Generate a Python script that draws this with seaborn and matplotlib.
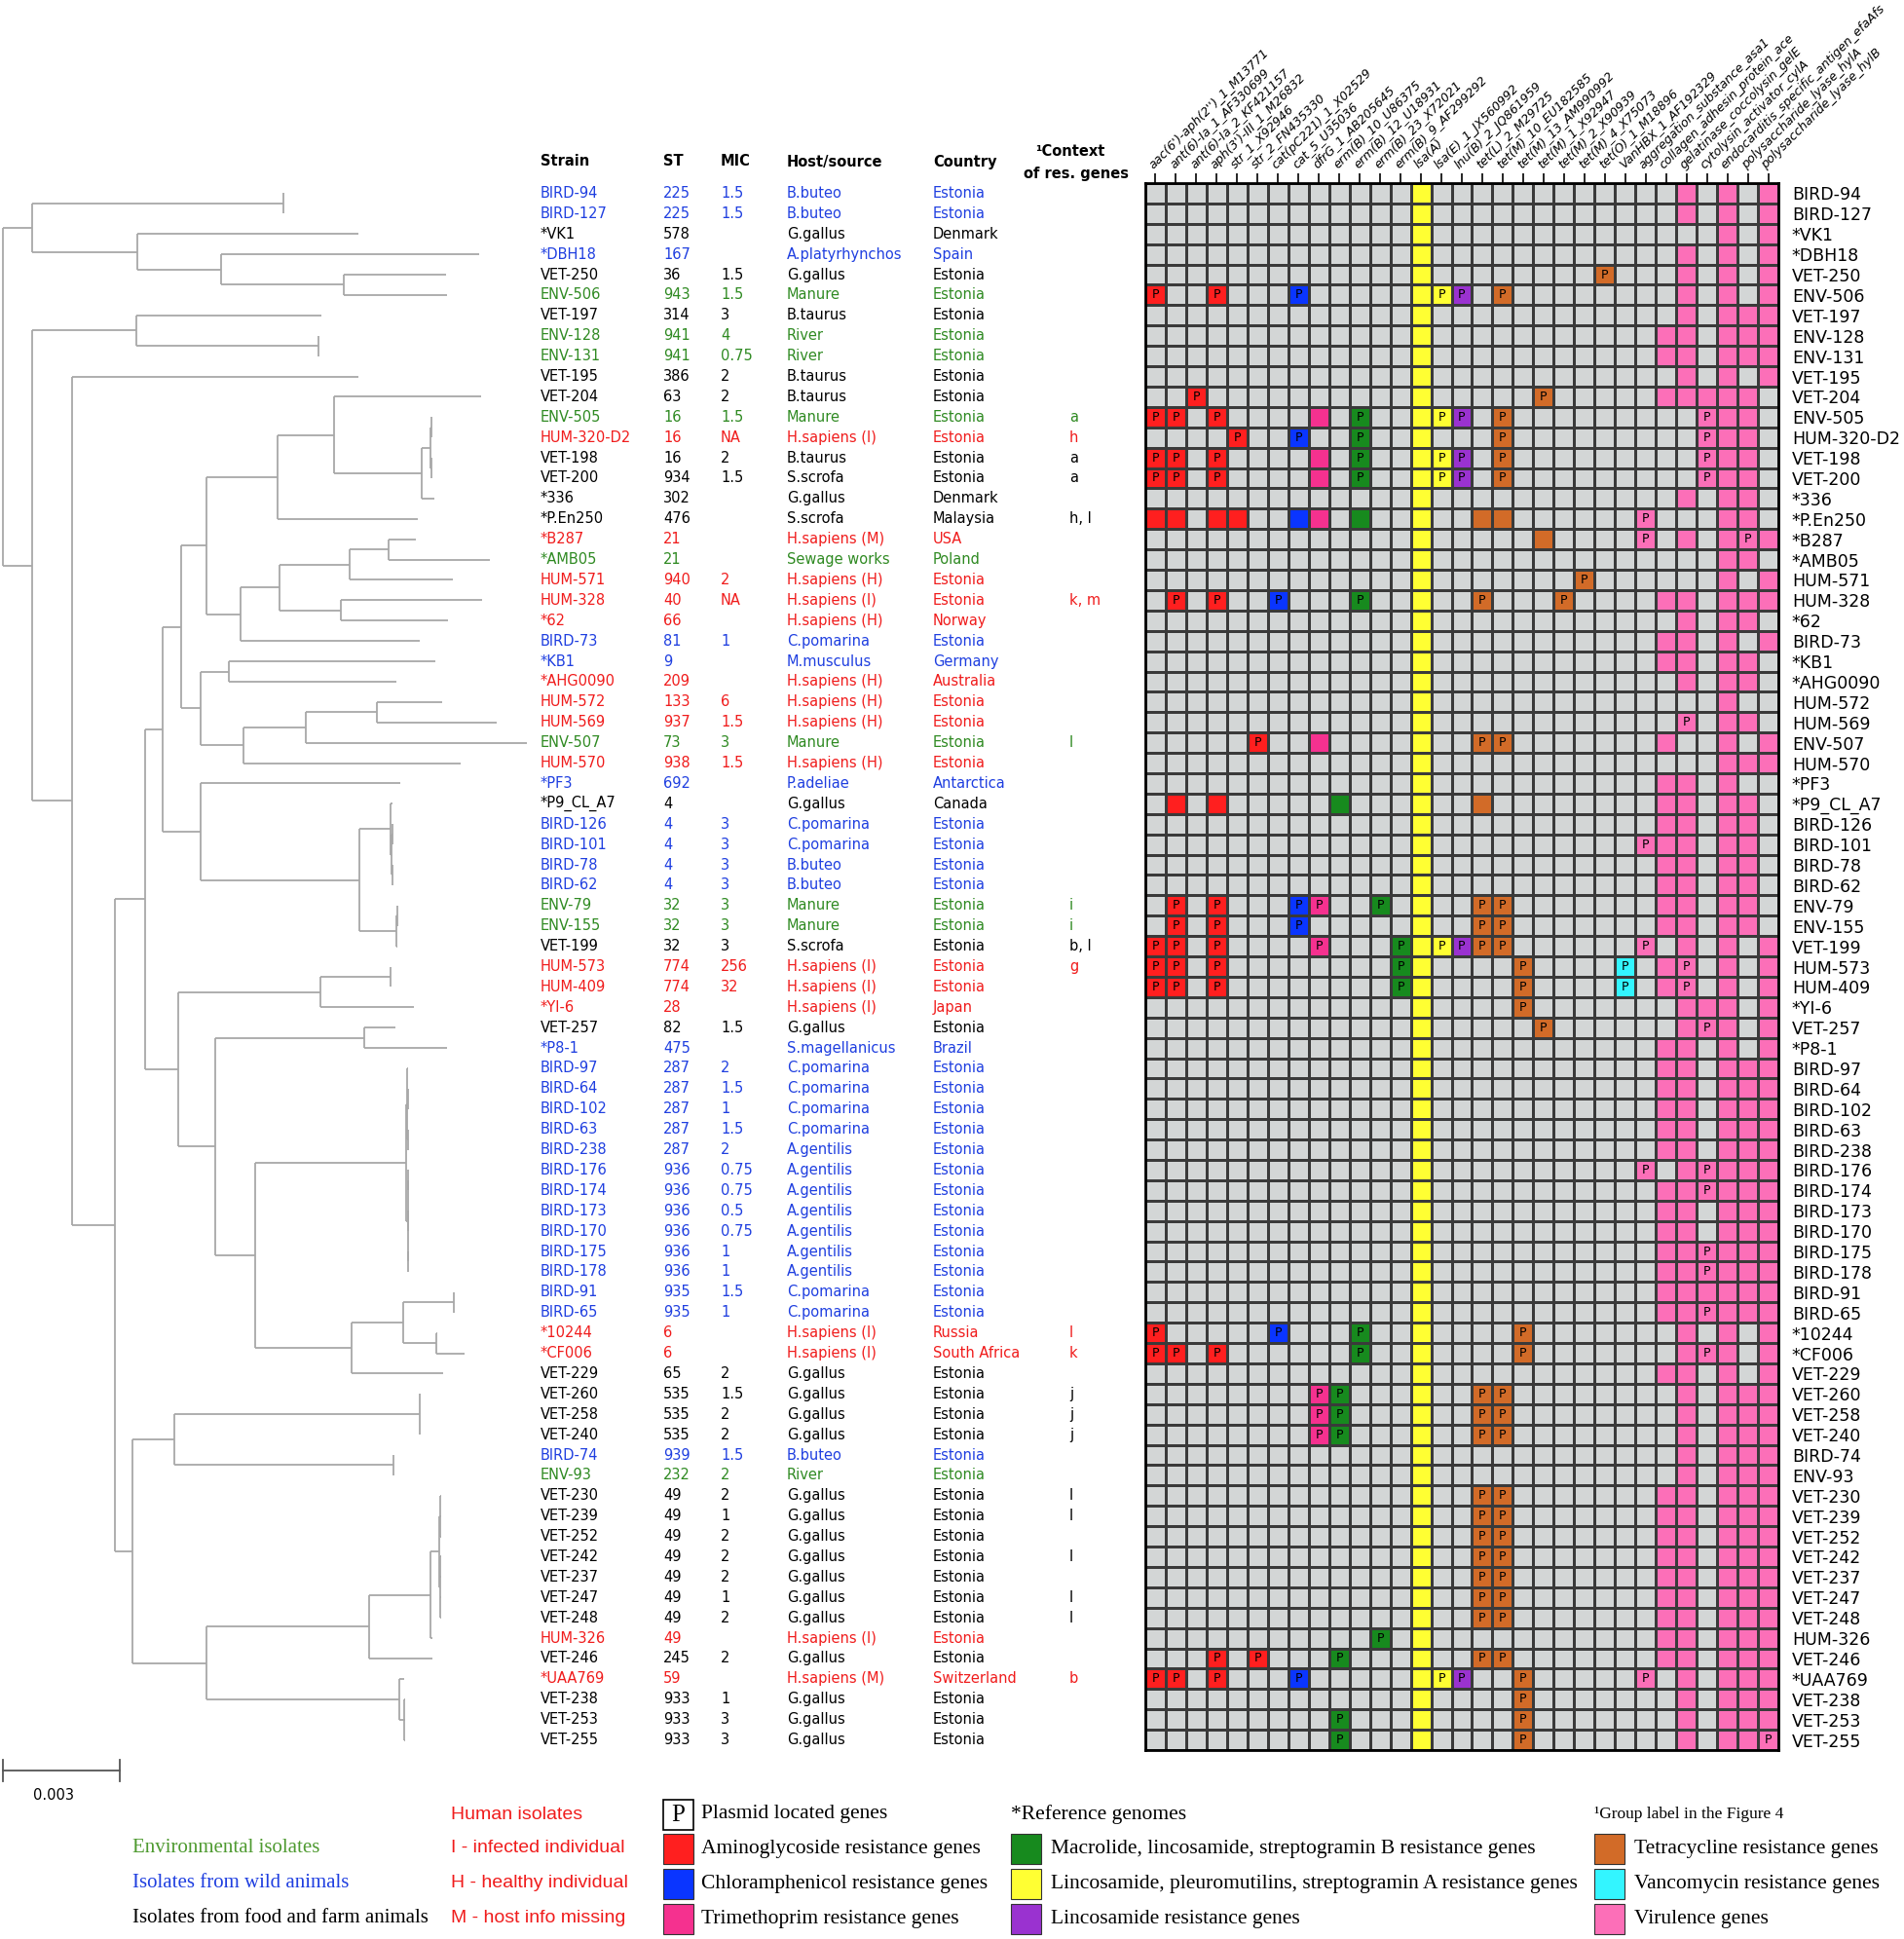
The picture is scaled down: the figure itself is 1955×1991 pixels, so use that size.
import numpy as np
import seaborn as sns
import matplotlib.pyplot as plt
from matplotlib.colors import ListedColormap
from matplotlib.patches import Rectangle

# ---------------- data ----------------
strains = ['BIRD-94', 'BIRD-127', '*VK1', '*DBH18', 'VET-250', 'ENV-506', 'VET-197', 'ENV-128',
           'ENV-131', 'VET-195', 'VET-204', 'ENV-505', 'HUM-320-D2', 'VET-198', 'VET-200', '*336',
           '*P.En250', '*B287', '*AMB05', 'HUM-571', 'HUM-328', '*62', 'BIRD-73', '*KB1',
           '*AHG0090', 'HUM-572', 'HUM-569', 'ENV-507', 'HUM-570', '*PF3', '*P9_CL_A7', 'BIRD-126',
           'BIRD-101', 'BIRD-78', 'BIRD-62', 'ENV-79', 'ENV-155', 'VET-199', 'HUM-573', 'HUM-409',
           '*YI-6', 'VET-257', '*P8-1', 'BIRD-97', 'BIRD-64', 'BIRD-102', 'BIRD-63', 'BIRD-238',
           'BIRD-176', 'BIRD-174', 'BIRD-173', 'BIRD-170', 'BIRD-175', 'BIRD-178', 'BIRD-91', 'BIRD-65',
           '*10244', '*CF006', 'VET-229', 'VET-260', 'VET-258', 'VET-240', 'BIRD-74', 'ENV-93',
           'VET-230', 'VET-239', 'VET-252', 'VET-242', 'VET-237', 'VET-247', 'VET-248', 'HUM-326',
           'VET-246', '*UAA769', 'VET-238', 'VET-253', 'VET-255']

st = ['225', '225', '578', '167', '36', '943', '314', '941', '941', '386', '63', '16', '16', '16',
      '934', '302', '476', '21', '21', '940', '40', '66', '81', '9', '209', '133', '937', '73', '938',
      '692', '4', '4', '4', '4', '4', '32', '32', '32', '774', '774', '28', '82', '475', '287', '287',
      '287', '287', '287', '936', '936', '936', '936', '936', '936', '935', '935', '6', '6', '65',
      '535', '535', '535', '939', '232', '49', '49', '49', '49', '49', '49', '49', '49', '245', '59',
      '933', '933', '933']

mic = ['1.5', '1.5', '', '', '1.5', '1.5', '3', '4', '0.75', '2', '2', '1.5', 'NA', '2', '1.5', '',
       '', '', '', '2', 'NA', '', '1', '', '', '6', '1.5', '3', '1.5', '', '', '3', '3', '3', '3',
       '3', '3', '3', '256', '32', '', '1.5', '', '2', '1.5', '1', '1.5', '2', '0.75', '0.75', '0.5',
       '0.75', '1', '1', '1.5', '1', '', '', '2', '1.5', '2', '2', '1.5', '2', '2', '1', '2', '2',
       '2', '1', '2', '', '2', '', '1', '3', '3']

hosts = ['B.buteo', 'B.buteo', 'G.gallus', 'A.platyrhynchos', 'G.gallus', 'Manure', 'B.taurus',
         'River', 'River', 'B.taurus', 'B.taurus', 'Manure', 'H.sapiens (I)', 'B.taurus', 'S.scrofa',
         'G.gallus', 'S.scrofa', 'H.sapiens (M)', 'Sewage works', 'H.sapiens (H)', 'H.sapiens (I)',
         'H.sapiens (H)', 'C.pomarina', 'M.musculus', 'H.sapiens (H)', 'H.sapiens (H)',
         'H.sapiens (H)', 'Manure', 'H.sapiens (H)', 'P.adeliae', 'G.gallus', 'C.pomarina',
         'C.pomarina', 'B.buteo', 'B.buteo', 'Manure', 'Manure', 'S.scrofa', 'H.sapiens (I)',
         'H.sapiens (I)', 'H.sapiens (I)', 'G.gallus', 'S.magellanicus', 'C.pomarina', 'C.pomarina',
         'C.pomarina', 'C.pomarina', 'A.gentilis', 'A.gentilis', 'A.gentilis', 'A.gentilis',
         'A.gentilis', 'A.gentilis', 'A.gentilis', 'C.pomarina', 'C.pomarina', 'H.sapiens (I)',
         'H.sapiens (I)', 'G.gallus', 'G.gallus', 'G.gallus', 'G.gallus', 'B.buteo', 'River',
         'G.gallus', 'G.gallus', 'G.gallus', 'G.gallus', 'G.gallus', 'G.gallus', 'G.gallus',
         'H.sapiens (I)', 'G.gallus', 'H.sapiens (M)', 'G.gallus', 'G.gallus', 'G.gallus']

countries = ['Estonia', 'Estonia', 'Denmark', 'Spain', 'Estonia', 'Estonia', 'Estonia', 'Estonia',
             'Estonia', 'Estonia', 'Estonia', 'Estonia', 'Estonia', 'Estonia', 'Estonia', 'Denmark',
             'Malaysia', 'USA', 'Poland', 'Estonia', 'Estonia', 'Norway', 'Estonia', 'Germany',
             'Australia', 'Estonia', 'Estonia', 'Estonia', 'Estonia', 'Antarctica', 'Canada'] + \
            ['Estonia'] * 9 + ['Japan', 'Estonia', 'Brazil'] + ['Estonia'] * 13 + \
            ['Russia', 'South Africa'] + ['Estonia'] * 15 + ['Switzerland'] + ['Estonia'] * 3

context = {'ENV-505': 'a', 'HUM-320-D2': 'h', 'VET-198': 'a', 'VET-200': 'a', '*P.En250': 'h, l',
           'HUM-328': 'k, m', 'ENV-507': 'l', 'ENV-79': 'i', 'ENV-155': 'i', 'VET-199': 'b, l',
           'HUM-573': 'g', '*10244': 'l', '*CF006': 'k', 'VET-260': 'j', 'VET-258': 'j',
           'VET-240': 'j', 'VET-230': 'l', 'VET-239': 'l', 'VET-242': 'l', 'VET-247': 'l',
           'VET-248': 'l', '*UAA769': 'b'}

# w = wild animals, e = environment, h = human, f = food / farm animals
groups = ('wwfwfefeeffehffffhehhhwwhhhehwfwwwweefhhhfw' 'wwwwwwwwwwwww' 'hhf' 'fffwe' 'fffffff' 'hfhfff')

genes = ["aac(6')-aph(2'')_1_M13771", "ant(6)-Ia_1_AF330699", "ant(6)-Ia_2_KF421157",
         "aph(3')-III_1_M26832", "str_1_X92946", "str_2_FN435330", "cat(pC221)_1_X02529",
         "cat_5_U35036", "dfrG_1_AB205645", "erm(B)_10_U86375", "erm(B)_12_U18931",
         "erm(B)_23_X72021", "erm(B)_9_AF299292", "lsa(A)", "lsa(E)_1_JX560992",
         "lnu(B)_2_JQ861959", "tet(L)_2_M29725", "tet(M)_10_EU182585", "tet(M)_13_AM990992",
         "tet(M)_1_X92947", "tet(M)_2_X90939", "tet(M)_4_X75073", "tet(O)_1_M18896",
         "VanHBX_1_AF192329", "aggregation_substance_asa1", "collagen_adhesin_protein_ace",
         "gelatinase_coccolysin_gelE", "cytolysin_activator_cylA",
         "endocarditis_specific_antigen_efaAfs", "polysaccharide_lyase_hylA",
         "polysaccharide_lyase_hylB"]

# gene class per column (index into class_colors)
gene_class = [1, 1, 1, 1, 1, 1, 2, 2, 3, 4, 4, 4, 4, 5, 5, 6, 7, 7, 7, 7, 7, 7, 7, 8,
              9, 9, 9, 9, 9, 9, 9]

# '.' absent, 'x' present, 'P' plasmid located
cells = [
    "......|..|.|....|x.|.|.......|.|..x.x.x",  # BIRD-94
    "......|..|.|....|x.|.|.......|.|..x.x.x",  # BIRD-127
    "......|..|.|....|x.|.|.......|.|....x.x",  # *VK1
    "......|..|.|....|x.|.|.......|.|..x.x.x",  # *DBH18
    "......|..|.|....|x.|.|......P|.|..x.x.x",  # VET-250
    "P..P..|.P|.|....|xP|P|.P.....|.|..x.x.x",  # ENV-506
    "......|..|.|....|x.|.|.......|.|..x.xxx",  # VET-197
    "......|..|.|....|x.|.|.......|.|.xx.xxx",  # ENV-128
    "......|..|.|....|x.|.|.......|.|.xx.xxx",  # ENV-131
    "......|..|.|....|x.|.|.......|.|..x.x.x",  # VET-195
    "..P...|..|.|....|x.|.|...P...|.|.xxxxx.",  # VET-204
    "PP.P..|..|x|.P..|xP|P|.P.....|.|...Pxx.",  # ENV-505
    "....P.|.P|.|.P..|x.|.|.P.....|.|...Pxx.",  # HUM-320-D2
    "PP.P..|..|x|.P..|xP|P|.P.....|.|...Pxx.",  # VET-198
    "PP.P..|..|x|.P..|xP|P|.P.....|.|...Pxx.",  # VET-200
    "......|..|.|....|x.|.|.......|.|..x.xx.",  # *336
    "xx.xx.|.x|x|.x..|x.|.|xx.....|.|P...xx.",  # *P.En250
    "......|..|.|....|x.|.|...x...|.|P.x.xPx",  # *B287
    "......|..|.|....|x.|.|.......|.|....xx.",  # *AMB05
    "......|..|.|....|x.|.|.....P.|.|....x.x",  # HUM-571
    ".P.P..|P.|.|.P..|x.|.|P...P..|.|.xx.xxx",  # HUM-328
    "......|..|.|....|x.|.|.......|.|..x.xx.",  # *62
    "......|..|.|....|x.|.|.......|.|.xx.x.x",  # BIRD-73
    "......|..|.|....|x.|.|.......|.|.xx.xx.",  # *KB1
    "......|..|.|....|x.|.|.......|.|..x.xx.",  # *AHG0090
    "......|..|.|....|x.|.|.......|.|....x..",  # HUM-572
    "......|..|.|....|x.|.|.......|.|..P.xx.",  # HUM-569
    ".....P|..|x|....|x.|.|PP.....|.|.x..x.x",  # ENV-507
    "......|..|.|....|x.|.|.......|.|....xxx",  # HUM-570
    "......|..|.|....|x.|.|.......|.|.xx.x..",  # *PF3
    ".x.x..|..|.|x...|x.|.|x......|.|.xx.xx.",  # *P9_CL_A7
    "......|..|.|....|x.|.|.......|.|.xx.xx.",  # BIRD-126
    "......|..|.|....|x.|.|.......|.|Pxx.xx.",  # BIRD-101
    "......|..|.|....|x.|.|.......|.|.xx.xx.",  # BIRD-78
    "......|..|.|....|x.|.|.......|.|.xx.xx.",  # BIRD-62
    ".P.P..|.P|P|..P.|x.|.|PP.....|.|.xx.xx.",  # ENV-79
    ".P.P..|.P|.|....|x.|.|PP.....|.|.xx.xx.",  # ENV-155
    "PP.P..|..|P|...P|xP|P|PP.....|.|P.x.x.x",  # VET-199
    "PP.P..|..|.|...P|x.|.|..P....|P|.xP.x.x",  # HUM-573
    "PP.P..|..|.|...P|x.|.|..P....|P|.xP.x.x",  # HUM-409
    "......|..|.|....|x.|.|..P....|.|..xxx.x",  # *YI-6
    "......|..|.|....|x.|.|...P...|.|..xPx.x",  # VET-257
    "......|..|.|....|x.|.|.......|.|.xx.x.x",  # *P8-1
    "......|..|.|....|x.|.|.......|.|.xx.xxx",  # BIRD-97
    "......|..|.|....|x.|.|.......|.|.xx.xxx",  # BIRD-64
    "......|..|.|....|x.|.|.......|.|.xx.xxx",  # BIRD-102
    "......|..|.|....|x.|.|.......|.|.xx.xxx",  # BIRD-63
    "......|..|.|....|x.|.|.......|.|.xx.xxx",  # BIRD-238
    "......|..|.|....|x.|.|.......|.|P.xPxxx",  # BIRD-176
    "......|..|.|....|x.|.|.......|.|.xxPxxx",  # BIRD-174
    "......|..|.|....|x.|.|.......|.|.xx.xxx",  # BIRD-173
    "......|..|.|....|x.|.|.......|.|.xx.xxx",  # BIRD-170
    "......|..|.|....|x.|.|.......|.|.xxPxxx",  # BIRD-175
    "......|..|.|....|x.|.|.......|.|.xxPxxx",  # BIRD-178
    "......|..|.|....|x.|.|.......|.|.xxxxxx",  # BIRD-91
    "......|..|.|....|x.|.|.......|.|.xxPxxx",  # BIRD-65
    "P.....|P.|.|.P..|x.|.|..P....|.|..x.x.x",  # *10244
    "PP.P..|..|.|.P..|x.|.|..P....|.|..xPx.x",  # *CF006
    "......|..|.|....|x.|.|.......|.|.xx.x.x",  # VET-229
    "......|..|P|P...|x.|.|PP.....|.|..x.xxx",  # VET-260
    "......|..|P|P...|x.|.|PP.....|.|..x.xxx",  # VET-258
    "......|..|P|P...|x.|.|PP.....|.|..x.xxx",  # VET-240
    "......|..|.|....|x.|.|.......|.|..x.xxx",  # BIRD-74
    "......|..|.|....|x.|.|.......|.|..x.xxx",  # ENV-93
    "......|..|.|....|x.|.|PP.....|.|.xx.xxx",  # VET-230
    "......|..|.|....|x.|.|PP.....|.|.xx.xxx",  # VET-239
    "......|..|.|....|x.|.|PP.....|.|.xx.xxx",  # VET-252
    "......|..|.|....|x.|.|PP.....|.|.xx.xxx",  # VET-242
    "......|..|.|....|x.|.|PP.....|.|.xx.xxx",  # VET-237
    "......|..|.|....|x.|.|PP.....|.|.xx.xxx",  # VET-247
    "......|..|.|....|x.|.|PP.....|.|.xx.xxx",  # VET-248
    "......|..|.|..P.|x.|.|.......|.|.xx.xxx",  # HUM-326
    "...P.P|..|.|P...|x.|.|PP.....|.|.xx.xxx",  # VET-246
    "PP.P..|.P|.|....|xP|P|..P....|.|P.x.xxx",  # *UAA769
    "......|..|.|....|x.|.|..P....|.|..x.xxx",  # VET-238
    "......|..|.|P...|x.|.|..P....|.|..x.xxx",  # VET-253
    "......|..|.|P...|x.|.|..P....|.|..x.xxP",  # VET-255
]

# phylogeny, branch lengths in 1e-4 substitutions/site
clade_top = ("((BIRD-94:0.1,BIRD-127:0.1):64.5,(*VK1:56.8,(*DBH18:66.2,"
             "(VET-250:26.3,ENV-506:26.5):31.3):21.7):26.9):7.5")
clade_n6 = "(VET-197:47.5,(ENV-128:0.1,ENV-131:0.1):46.7):26.8"
clade_n14 = ("((VET-204:37.8,(((ENV-505:0.1,HUM-320-D2:0.1):0.2,(VET-198:0.1,VET-200:0.1):0.2):2.3,"
             "*336:3.3):22.6):14.3,*P.En250:35.8):18.3")
clade_n15 = ("((((*B287:7,*AMB05:26):9.9,HUM-571:26.4):18.1,(HUM-328:36.3,*62:27.6):15.8):10,"
             "BIRD-73:46):8.6")
clade_n13 = ("((*KB1:53.1,*AHG0090:43.1):7.3,(((HUM-572:16.7,HUM-569:30.8):18.3,ENV-507:56.7):15.9,"
             "HUM-570:55.7):11.1):4.9")
clade_p9 = ("(*PF3:51.3,((*P9_CL_A7:0.4,((BIRD-126:0.1,BIRD-101:0.1):0.2,(BIRD-78:0.1,BIRD-62:0.1):0.2):0.1):8,"
            "((ENV-79:0.1,ENV-155:0.1):0.3,VET-199:0.4):9.3):40.8):9.7")
clade_low = ("(((HUM-573:0.1,HUM-409:0.1):17.8,*YI-6:24):36.5,((VET-257:8.1,*P8-1:21.3):38.3,"
             "(((BIRD-97:0.2,(BIRD-64:0.1,BIRD-102:0.1):0.1,(BIRD-63:0.1,BIRD-238:0.1):0.1):0.2,"
             "((BIRD-176:0.1,BIRD-174:0.1):0.1,(BIRD-173:0.1,BIRD-170:0.1):0.1,(BIRD-175:0.1,BIRD-178:0.1):0.1):0.3):38.9,"
             "(((BIRD-91:0.1,BIRD-65:0.1):13,(*10244:0.2,*CF006:7.4):8.5):13.2,VET-229:23.5):24.8):10.3):9.3):8.5")
clade_bottom = ("(((VET-260:0.1,VET-258:0.1,VET-240:0.1):62.8,(BIRD-74:0.1,ENV-93:0.1):56.1):10.8,"
                "(((((VET-230:0.1,VET-239:0.1,VET-252:0.1):0.2,(VET-242:0.1,VET-237:0.1,VET-247:0.1,VET-248:0.1):0.2):2.3,"
                "HUM-326:0.5):15.9,VET-246:16.3):41.6,(*UAA769:1.4,(VET-238:0.2,VET-253:0.2,VET-255:0.2):1.4):49.4):19):4.6")

tree_newick = ("(" + clade_top + ",(" + clade_n6 + ",(VET-195:73.6,(((((" + clade_n14 + "," + clade_n15
               + "):6.5," + clade_n13 + "):4.7," + clade_p9 + "):4.5," + clade_low + "):7.9,"
               + clade_bottom + "):11):10.2):7.5);")

class_colors = ['#d3d6d6', '#ff1f1f', '#0a35ff', '#f5318f', '#178a1e', '#ffff33',
                '#9a32d0', '#d26b28', '#33f5ff', '#fc6fb8']
group_colors = {'w': '#1f3fe0', 'e': '#2f8a22', 'h': '#f01c1c', 'f': 'black'}

# ---------------- figure ----------------
W, H = 1955, 1991
fig = plt.figure(figsize=(W / 100, H / 100), dpi=100)
bg = fig.add_axes([0, 0, 1, 1])
bg.set_xlim(0, W)
bg.set_ylim(H, 0)
bg.axis('off')

grid_left, grid_right, grid_top, grid_bottom = 1176, 1826, 188, 1797
n_rows = len(strains)
row_h = (grid_bottom - grid_top) / n_rows
row_y = [grid_top + (i + 0.5) * row_h for i in range(n_rows)]

# heatmap
codes = np.zeros((n_rows, len(genes)), dtype=int)
annot = np.full((n_rows, len(genes)), '', dtype=object)
for i, row in enumerate(cells):
    for j, ch in enumerate(row.replace('|', '')):
        if ch != '.':
            codes[i, j] = gene_class[j]
        if ch == 'P':
            annot[i, j] = 'P'

hax = fig.add_axes([grid_left / W, 1 - grid_bottom / H, (grid_right - grid_left) / W,
                    (grid_bottom - grid_top) / H])
sns.heatmap(codes, ax=hax, cmap=ListedColormap(class_colors), vmin=-0.5, vmax=9.5, cbar=False,
            linewidths=0.8, linecolor='#3a3a3a', annot=annot, fmt='',
            annot_kws={'fontsize': 9, 'color': 'black'},
            xticklabels=genes, yticklabels=strains)
for s in hax.spines.values():
    s.set_visible(True)
    s.set_linewidth(2)
    s.set_color('black')
hax.xaxis.tick_top()
hax.tick_params(axis='x', top=True, bottom=False, length=7, width=1.2, pad=2)
hax.set_xticklabels(genes, rotation=45, ha='left', va='bottom', rotation_mode='anchor',
                    fontsize=9.1, style='italic')
hax.yaxis.tick_right()
hax.tick_params(axis='y', left=False, right=False, length=0, pad=10)
hax.set_yticklabels(strains, rotation=0, fontsize=12.5)

# table columns
col_x = {'strain': 555, 'st': 681, 'mic': 740, 'host': 808, 'country': 958, 'ctx': 1098}
hdr_y = 166
for key, label in [('strain', 'Strain'), ('st', 'ST'), ('mic', 'MIC'), ('host', 'Host/source'),
                   ('country', 'Country')]:
    bg.text(col_x[key], hdr_y, label, fontsize=10.5, fontweight='bold', va='center')
bg.text(1063, 156, '¹Context', fontsize=10.5, fontweight='bold', va='center')
bg.text(1051, 178, 'of res. genes', fontsize=10.5, fontweight='bold', va='center')

for i, name in enumerate(strains):
    c = group_colors[groups[i]]
    y = row_y[i]
    for key, val in [('strain', name), ('st', st[i]), ('mic', mic[i]), ('host', hosts[i]),
                     ('country', countries[i]), ('ctx', context.get(name, ''))]:
        bg.text(col_x[key], y, val, fontsize=10.5, color=c, va='center')


# tree
def parse_newick(s):
    pos = 0

    def node():
        nonlocal pos
        kids = []
        if s[pos] == '(':
            pos += 1
            kids.append(node())
            while s[pos] == ',':
                pos += 1
                kids.append(node())
            pos += 1
        start = pos
        while s[pos] not in ':,);':
            pos += 1
        name = s[start:pos]
        length = 0.0
        if s[pos] == ':':
            pos += 1
            start = pos
            while s[pos] not in ',);':
                pos += 1
            length = float(s[start:pos])
        return {'name': name, 'len': length, 'kids': kids}

    return node()


px_per_unit = 4.0  # 0.003 == 120 px
tree_col = '#a8a8a8'


def draw(nd, x0):
    x = x0 + nd['len'] * px_per_unit
    if nd['kids']:
        ys = [draw(k, x) for k in nd['kids']]
        y = (ys[0] + ys[-1]) / 2
        bg.plot([x, x], [ys[0], ys[-1]], color=tree_col, lw=1.3, solid_capstyle='butt')
    else:
        y = row_y[strains.index(nd['name'])]
    if nd['len'] > 0:
        bg.plot([x0, x], [y, y], color=tree_col, lw=1.3, solid_capstyle='butt')
    return y


draw(parse_newick(tree_newick), 3)

# scale bar
sb_y = 1818
bg.plot([3, 3 + 30 * px_per_unit], [sb_y, sb_y], color='#555555', lw=1.3)
for xx in (3, 3 + 30 * px_per_unit):
    bg.plot([xx, xx], [sb_y - 11, sb_y + 11], color='#555555', lw=1.3)
bg.text(55, 1843, '0.003', fontsize=10.5, ha='center', va='center')

# legend
ly = [1863, 1898, 1934, 1970]
serif = 'Liberation Serif'
bg.text(136, ly[1], 'Environmental isolates', family=serif, fontsize=15, color='#4e9a30', va='center')
bg.text(136, ly[2], 'Isolates from wild animals', family=serif, fontsize=15, color='#1f3fe0', va='center')
bg.text(136, ly[3], 'Isolates from food and farm animals', family=serif, fontsize=15, color='black',
        va='center')
for k, t in enumerate(['Human isolates', 'I - infected individual', 'H - healthy individual',
                       'M - host info missing']):
    bg.text(463, ly[k], t, family='Liberation Sans', fontsize=14, color='#f01c1c', va='center')

box = 31
bg.add_patch(Rectangle((681, ly[0] - box / 2), box, box, facecolor='white', edgecolor='black', lw=1.2))
bg.text(681 + box / 2, ly[0] + 1, 'P', family=serif, fontsize=18, ha='center', va='center')
bg.text(720, ly[0], 'Plasmid located genes', family=serif, fontsize=15.5, va='center')
bg.text(1038, ly[0], '*Reference genomes', family=serif, fontsize=15.5, va='center')
bg.text(1637, ly[0], '¹Group label in the Figure 4', family=serif, fontsize=12.5, va='center')

legend_items = [(681, 720, 1, 'Aminoglycoside resistance genes'),
                (681, 720, 2, 'Chloramphenicol resistance genes'),
                (681, 720, 3, 'Trimethoprim resistance genes'),
                (1038, 1079, 4, 'Macrolide, lincosamide, streptogramin B resistance genes'),
                (1038, 1079, 5, 'Lincosamide, pleuromutilins, streptogramin A resistance genes'),
                (1038, 1079, 6, 'Lincosamide resistance genes'),
                (1637, 1678, 7, 'Tetracycline resistance genes'),
                (1637, 1678, 8, 'Vancomycin resistance genes'),
                (1637, 1678, 9, 'Virulence genes')]
for k, (bx, tx, code, label) in enumerate(legend_items):
    y = ly[1 + k % 3]
    bg.add_patch(Rectangle((bx, y - box / 2), box, box, facecolor=class_colors[code],
                           edgecolor='#333333', lw=0.8))
    bg.text(tx, y, label, family=serif, fontsize=15.5, va='center')

fig.savefig('out.png', dpi=100)
